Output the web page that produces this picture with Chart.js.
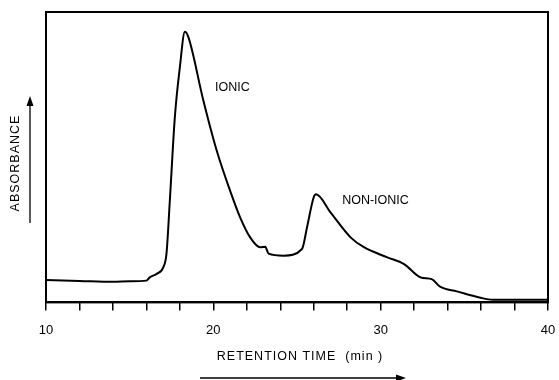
<!DOCTYPE html>
<html>
<head>
<meta charset="utf-8">
<script src="https://cdn.jsdelivr.net/npm/chart.js@4/dist/chart.umd.min.js"></script>
<style>
  html, body { margin: 0; padding: 0; background: #fff; }
</style>
</head>
<body>
<canvas id="chromChart" width="559" height="380"></canvas>
<script>
// retention time (min) and absorbance (arbitrary units)
const retentionTime = [10, 12, 14, 15, 16, 16.2, 16.6, 17.0, 17.2, 17.4, 17.7, 18.0, 18.3, 18.5, 19.4, 20.2, 21.0, 21.6, 22.2, 22.8, 23.1, 23.3, 24.2, 25.3, 25.6, 26.0, 26.14, 27.0, 28.2, 29.0, 30.4, 31.4, 32.4, 33.05, 33.55, 34.55, 35.9, 36.7, 38, 40];
const absorbance    = [7.7, 7.4, 7.1, 7.3, 7.5, 8.6, 9.8, 12.0, 16.8, 35, 63.8, 81, 93.2, 91.5, 69.6, 52.3, 38.5, 29.3, 22.4, 19, 19.2, 16.8, 16.1, 18.4, 25.9, 36.2, 37.2, 31.0, 22.4, 19, 15.5, 13.2, 8.6, 8.0, 5.4, 3.8, 1.7, 0.9, 0.9, 0.9];
const tickLabels = [10, 20, 30, 40];
const peakLabels = ['IONIC', 'NON-IONIC'];
const peakLabelPos = [[20.1, 74], [27.7, 35]];

const points = retentionTime.map((t, i) => ({ x: t, y: absorbance[i] }));

const frameAndTitles = {
    id: 'frameAndTitles',
    afterDraw(chart) {
        const { ctx, chartArea: a, scales } = chart;
        ctx.save();
        ctx.strokeStyle = '#000';
        ctx.lineWidth = 2;
        ctx.strokeRect(a.left, a.top, a.right - a.left, a.bottom - a.top);

        ctx.fillStyle = '#000';
        ctx.font = '12.5px "Liberation Sans", Arial, sans-serif';
        ctx.textAlign = 'left';
        ctx.textBaseline = 'middle';
        peakLabels.forEach((txt, i) => {
            ctx.fillText(txt, scales.x.getPixelForValue(peakLabelPos[i][0]), scales.y.getPixelForValue(peakLabelPos[i][1]));
        });

        // x title with arrow
        ctx.font = '12.5px "Liberation Sans", Arial, sans-serif';
        ctx.textAlign = 'center';
        if ('letterSpacing' in ctx) ctx.letterSpacing = '1px';
        ctx.fillText('RETENTION TIME  (min )', 300, 357);
        ctx.lineWidth = 1.3;
        ctx.beginPath();
        ctx.moveTo(200, 378);
        ctx.lineTo(400, 378);
        ctx.stroke();
        ctx.beginPath();
        ctx.moveTo(406, 378);
        ctx.lineTo(396, 374.5);
        ctx.lineTo(396, 381.5);
        ctx.closePath();
        ctx.fill();

        // y title with arrow
        ctx.save();
        ctx.translate(16, 163);
        ctx.rotate(-Math.PI / 2);
        ctx.fillText('ABSORBANCE', 0, 0);
        ctx.restore();
        ctx.beginPath();
        ctx.moveTo(30, 223);
        ctx.lineTo(30, 102);
        ctx.stroke();
        ctx.beginPath();
        ctx.moveTo(30, 96);
        ctx.lineTo(26.5, 106);
        ctx.lineTo(33.5, 106);
        ctx.closePath();
        ctx.fill();
        ctx.restore();
    }
};

new Chart(document.getElementById('chromChart').getContext('2d'), {
    type: 'line',
    data: {
        datasets: [{
            data: points,
            borderColor: '#000',
            borderWidth: 2,
            pointRadius: 0,
            cubicInterpolationMode: 'monotone',
            fill: false
        }]
    },
    options: {
        responsive: false,
        animation: false,
        layout: { padding: { left: 46, right: 11, top: 12, bottom: 30 } },
        plugins: { legend: { display: false }, tooltip: { enabled: false } },
        scales: {
            x: {
                type: 'linear',
                min: 10,
                max: 40,
                afterFit: scale => { scale.paddingLeft = 0; scale.paddingRight = 0; },
                grid: { drawOnChartArea: false, color: '#000', lineWidth: 1.5, tickLength: 8 },
                border: { display: true, color: '#000', width: 2 },
                ticks: {
                    stepSize: 2,
                    autoSkip: false,
                    maxRotation: 0,
                    padding: 12,
                    color: '#000',
                    font: { size: 13, family: '"Liberation Sans", Arial, sans-serif' },
                    callback: v => tickLabels.includes(v) ? String(v) : ''
                }
            },
            y: {
                min: 0,
                max: 100,
                grid: { display: false, drawTicks: false },
                border: { display: true, color: '#000', width: 2 },
                ticks: { display: false }
            }
        }
    },
    plugins: [frameAndTitles]
});
</script>
</body>
</html>
